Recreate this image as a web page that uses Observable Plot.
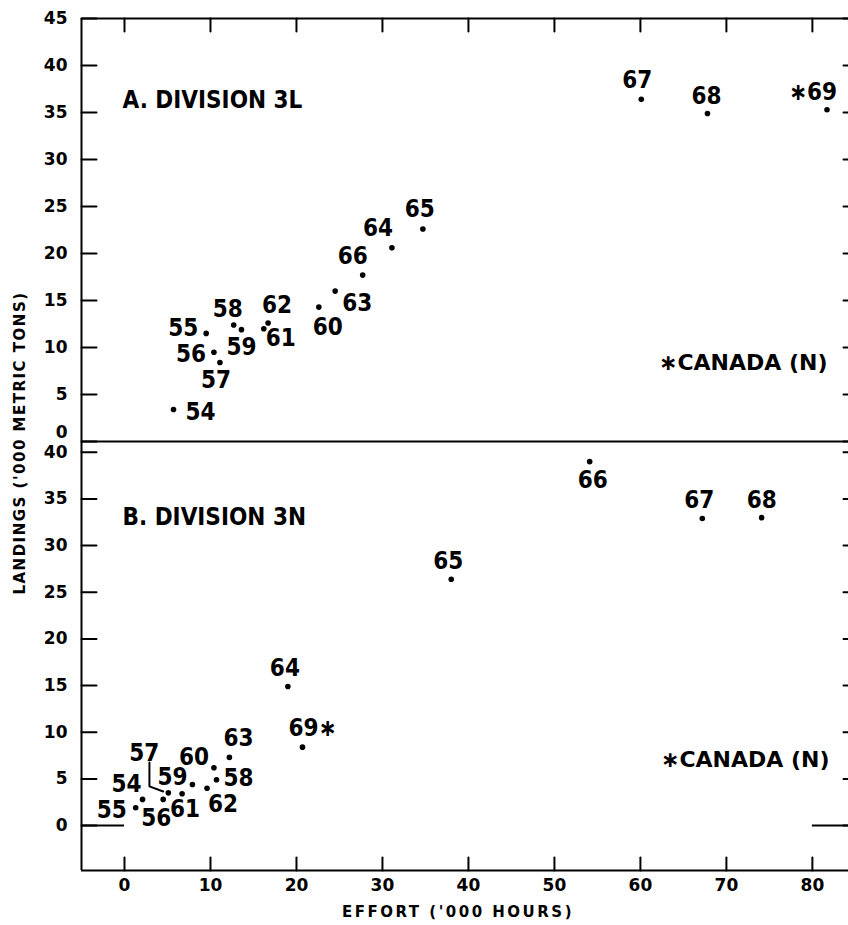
<!DOCTYPE html>
<html>
<head>
<meta charset="utf-8">
<script src="https://cdn.jsdelivr.net/npm/d3@7"></script>
<script src="https://cdn.jsdelivr.net/npm/@observablehq/plot@0.6"></script>
<style>
  html, body { margin: 0; padding: 0; background: #fff; overflow: hidden; }
  #wrap { position: relative; width: 848px; height: 925px; font-family: "DejaVu Sans", sans-serif; color: #000; background: #fff; }
  #top, #bot { position: absolute; left: 0; }
  #top { top: 0; }
  #bot { top: 441px; }
  .ylab { position: absolute; left: 20px; top: 443px; transform: translate(-50%, -50%) rotate(-90deg);
          white-space: nowrap; font-weight: bold; font-size: 15px; letter-spacing: 1.5px; }
  .xlab { position: absolute; left: 458px; top: 912px; transform: translate(-50%, -50%);
          white-space: nowrap; font-weight: bold; font-size: 15px; letter-spacing: 2.5px; }
</style>
</head>
<body>
<div id="wrap">
  <div id="top"></div>
  <div id="bot"></div>
  <div class="ylab">LANDINGS ('000 METRIC TONS)</div>
  <div class="xlab">EFFORT ('000 HOURS)</div>
</div>
<script>
// ---- Data ----
const years = [54, 55, 56, 57, 58, 59, 60, 61, 62, 63, 64, 65, 66, 67, 68, 69];
// Division 3L
const effort3L   = [5.7, 9.5, 10.4, 11.1, 12.7, 13.6, 22.6, 16.2, 16.7, 24.5, 31.1, 34.7, 27.7, 60.1, 67.8, 81.7];
const landings3L = [3.4, 11.5, 9.5, 8.4, 12.4, 11.9, 14.3, 12.0, 12.6, 16.0, 20.6, 22.6, 17.7, 36.4, 34.9, 35.3];
// Division 3N
const effort3N   = [2.1, 1.3, 4.5, 5.1, 10.7, 7.9, 10.4, 6.7, 9.6, 12.2, 19.0, 38.0, 54.1, 67.2, 74.1, 20.7];
const landings3N = [2.8, 1.9, 2.8, 3.5, 4.9, 4.4, 6.2, 3.4, 4.0, 7.3, 14.9, 26.4, 39.0, 32.9, 33.0, 8.4];
// Years marked as Canada (N)
const canadaYears = [69];
// Tick values
const xTicks = [0, 10, 20, 30, 40, 50, 60, 70, 80];
const yTicks3L = [0, 5, 10, 15, 20, 25, 30, 35, 40, 45];
const yTicks3N = [0, 5, 10, 15, 20, 25, 30, 35, 40];

// ---- Label placement (pixel offsets of each year label from its point) ----
const labelOffset3L = {
  54: [27, 3], 55: [-23, -5], 56: [-23, 2], 57: [-4, 18], 58: [-6, -16], 59: [0, 18],
  60: [9, 20], 61: [17, 10], 62: [9, -18], 63: [22, 12], 64: [-14, -20], 65: [-3, -20],
  66: [-10, -19], 67: [-4, -19], 68: [-1, -17], 69: [-14, -17]
};
const labelOffset3N = {
  54: [-16, -15], 55: [-24, 3], 56: [-7, 19], 57: [-24, -40], 58: [22, -1], 59: [-20, -7],
  60: [-20, -10], 61: [3, 16], 62: [16, 16], 63: [9, -19], 64: [-3, -18], 65: [-3, -18],
  66: [3, 19], 67: [-3, -18], 68: [0, -17], 69: [10, -19]
};

const STAR = "\u2217";
function labelText(y, panel) {
  if (!canadaYears.includes(y)) return String(y);
  return panel === "3L" ? STAR + y : y + STAR;
}

const table3L = years.map((y, i) => ({year: y, effort: effort3L[i], landings: landings3L[i]}));
const table3N = years.map((y, i) => ({year: y, effort: effort3N[i], landings: landings3N[i]}));

const XMIN = -5, XMAX = 84.2;
const tickShape = {draw(ctx, l) { ctx.moveTo(0, 0); ctx.lineTo(0, -l); }};
const LBL_FONT = "'DejaVu Sans Condensed', 'DejaVu Sans', sans-serif";

function frameMarks(yDomain, yTicks, isTop) {
  const [y0, y1] = yDomain;
  const marks = [
    Plot.ruleX([XMIN], {stroke: "black", strokeWidth: 2}),
    // inward ticks on left
    Plot.vector(yTicks, {x: XMIN, y: d => d, length: 15, rotate: 90, anchor: "start", shape: tickShape, stroke: "black", strokeWidth: 2}),
    // inward ticks on right
    Plot.vector(yTicks, {x: XMAX, y: d => d, length: 5, rotate: 270, anchor: "start", shape: tickShape, stroke: "black", strokeWidth: 2})
  ];
  if (isTop) {
    marks.push(Plot.ruleY([y0], {stroke: "black", strokeWidth: 2}));
    marks.push(Plot.ruleY([y1], {stroke: "black", strokeWidth: 2}));
    marks.push(Plot.vector(xTicks, {x: d => d, y: y1, length: 13, rotate: 180, anchor: "start", shape: tickShape, stroke: "black", strokeWidth: 2}));
  } else {
    marks.push(Plot.ruleY([y0], {stroke: "black", strokeWidth: 2}));
    marks.push(Plot.vector(xTicks, {x: d => d, y: y0, length: 13, rotate: 0, anchor: "start", shape: tickShape, stroke: "black", strokeWidth: 2}));
  }
  return marks;
}

function labelMarks(table, offsets, panel) {
  return table.map(d => Plot.text([d], {
    x: "effort", y: "landings", text: r => labelText(r.year, panel),
    dx: offsets[d.year][0], dy: offsets[d.year][1],
    fontSize: 24, fontWeight: "bold", fontFamily: LBL_FONT, fill: "black"
  }));
}

// ---- Top panel: Division 3L ----
const yDom3L = [0, 45];
const topPlot = Plot.plot({
  width: 848, height: 442,
  marginTop: 18, marginBottom: 1, marginLeft: 81, marginRight: 0,
  style: {fontFamily: "DejaVu Sans, sans-serif", background: "transparent", overflow: "visible"},
  x: {domain: [XMIN, XMAX], axis: null},
  y: {domain: yDom3L, axis: null},
  marks: [
    Plot.axisY(yTicks3L.filter(t => t !== 0), {anchor: "left", tickSize: 0, tickPadding: 14, fontSize: 17, fontWeight: "bold", label: null}),
    Plot.axisY([0], {anchor: "left", tickSize: 0, tickPadding: 14, dy: -9, fontSize: 17, fontWeight: "bold", label: null}),
    ...frameMarks(yDom3L, yTicks3L, true),
    Plot.dot(table3L, {x: "effort", y: "landings", r: 2.8, fill: "black", stroke: null}),
    ...labelMarks(table3L, labelOffset3L, "3L"),
    Plot.text(["A. DIVISION 3L"], {frameAnchor: "top-left", textAnchor: "start", dx: 41, dy: 72, fontSize: 24, fontWeight: "bold", fontFamily: LBL_FONT, fill: "black"}),
    Plot.text([STAR + "CANADA (N)"], {frameAnchor: "top-right", textAnchor: "end", dx: -21, dy: 336, fontSize: 22, fontWeight: "bold", fill: "black", style: "letter-spacing:2.8px"})
  ]
});
document.getElementById("top").appendChild(topPlot);

// ---- Bottom panel: Division 3N ----
const yDom3N = [-4.82, 41.16];
const p57 = table3N.find(d => d.year === 57);
const bracket57 = [
  {x: p57.effort - 2.2, y: p57.landings + 3.25},
  {x: p57.effort - 2.2, y: p57.landings + 0.7},
  {x: p57.effort - 0.6, y: p57.landings + 0.15}
];
const botPlot = Plot.plot({
  width: 848, height: 484,
  marginTop: 0, marginBottom: 55, marginLeft: 81, marginRight: 0,
  style: {fontFamily: "DejaVu Sans, sans-serif", background: "transparent", overflow: "visible"},
  x: {domain: [XMIN, XMAX], axis: null},
  y: {domain: yDom3N, axis: null},
  marks: [
    Plot.axisY(yTicks3N, {anchor: "left", tickSize: 0, tickPadding: 14, fontSize: 17, fontWeight: "bold", label: null}),
    Plot.axisX(xTicks, {anchor: "bottom", tickSize: 0, tickPadding: 8, fontSize: 17, fontWeight: "bold", label: null}),
    ...frameMarks(yDom3N, yTicks3N, false),
    Plot.ruleY([0], {x1: XMIN, x2: 0, stroke: "black", strokeWidth: 2}),
    Plot.ruleY([0], {x1: 80, x2: XMAX, stroke: "black", strokeWidth: 2}),
    Plot.line(bracket57, {x: "x", y: "y", stroke: "black", strokeWidth: 2}),
    Plot.dot(table3N, {x: "effort", y: "landings", r: 2.8, fill: "black", stroke: null}),
    ...labelMarks(table3N, labelOffset3N, "3N"),
    Plot.text(["B. DIVISION 3N"], {frameAnchor: "top-left", textAnchor: "start", dx: 41, dy: 66, fontSize: 24, fontWeight: "bold", fontFamily: LBL_FONT, fill: "black"}),
    Plot.text([STAR + "CANADA (N)"], {frameAnchor: "top-right", textAnchor: "end", dx: -19, dy: 310, fontSize: 22, fontWeight: "bold", fill: "black", style: "letter-spacing:2.8px"})
  ]
});
document.getElementById("bot").appendChild(botPlot);
</script>
</body>
</html>
